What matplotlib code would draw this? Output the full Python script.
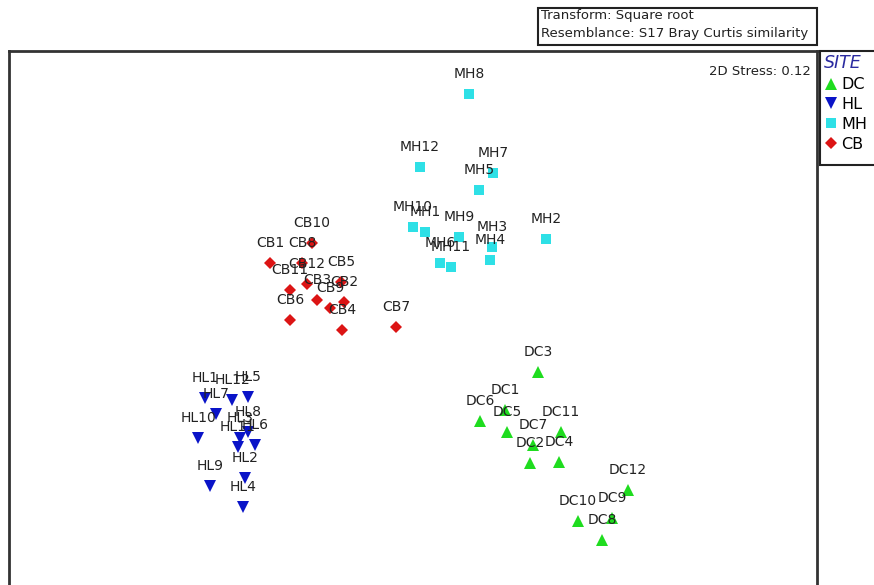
import matplotlib.pyplot as plt
from matplotlib.lines import Line2D
from matplotlib.patches import Rectangle

plt.rcParams['font.family'] = ['DejaVu Sans']

# nMDS ordination scores per site group
dc_names = ['DC1', 'DC2', 'DC3', 'DC4', 'DC5', 'DC6', 'DC7', 'DC8', 'DC9', 'DC10', 'DC11', 'DC12']
dc_x = [0.46, 0.585, 0.625, 0.73, 0.47, 0.335, 0.60, 0.945, 0.995, 0.825, 0.74, 1.075]
dc_y = [-0.55, -0.815, -0.36, -0.81, -0.66, -0.605, -0.725, -1.20, -1.09, -1.105, -0.66, -0.95]

hl_names = ['HL1', 'HL2', 'HL3', 'HL4', 'HL5', 'HL6', 'HL7', 'HL8', 'HL9', 'HL10', 'HL11', 'HL12']
hl_x = [-1.04, -0.84, -0.865, -0.85, -0.825, -0.79, -0.985, -0.825, -1.015, -1.075, -0.875, -0.905]
hl_y = [-0.49, -0.89, -0.69, -1.035, -0.485, -0.725, -0.57, -0.66, -0.93, -0.69, -0.735, -0.50]

mh_names = ['MH1', 'MH2', 'MH3', 'MH4', 'MH5', 'MH6', 'MH7', 'MH8', 'MH9', 'MH10', 'MH11', 'MH12']
mh_x = [0.06, 0.665, 0.395, 0.385, 0.33, 0.135, 0.40, 0.28, 0.23, 0.0, 0.19, 0.035]
mh_y = [0.34, 0.305, 0.265, 0.20, 0.55, 0.185, 0.635, 1.03, 0.315, 0.365, 0.165, 0.665]

cb_names = ['CB1', 'CB2', 'CB3', 'CB4', 'CB5', 'CB6', 'CB7', 'CB8', 'CB9', 'CB10', 'CB11', 'CB12']
cb_x = [-0.715, -0.345, -0.48, -0.355, -0.36, -0.615, -0.085, -0.555, -0.415, -0.505, -0.615, -0.53]
cb_y = [0.185, -0.01, 0.0, -0.15, 0.09, -0.10, -0.135, 0.185, -0.04, 0.285, 0.05, 0.08]

groups = [
    ('DC', dc_names, dc_x, dc_y, '^', '#1fdc1f', 8.5),
    ('HL', hl_names, hl_x, hl_y, 'v', '#0a14c8', 8.5),
    ('MH', mh_names, mh_x, mh_y, 's', '#2ee0e6', 7),
    ('CB', cb_names, cb_x, cb_y, 'D', '#dc1414', 6.5),
]

fig = plt.figure(figsize=(8.74, 5.85), dpi=100)
# axes box runs past the bottom of the figure
ax = fig.add_axes([9 / 874, -15 / 585, 808 / 874, 549 / 585])
ax.set_xlim(-2.02, 2.02)
ax.set_ylim(-1.5, 1.245)
ax.set_xticks([])
ax.set_yticks([])
for sp in ax.spines.values():
    sp.set_linewidth(2)
    sp.set_color('#333333')

handles = []
for name, labels, xs, ys, mk, col, ms in groups:
    ax.plot(xs, ys, linestyle='none', marker=mk, color=col, markersize=ms,
            markeredgewidth=0, zorder=3)
    for lab, x, y in zip(labels, xs, ys):
        ax.annotate(lab, (x, y), xytext=(0, 14.5), textcoords='offset points',
                    ha='center', va='center', fontsize=10, color='#222222', zorder=4)
    handles.append(Line2D([], [], linestyle='none', marker=mk, color=col,
                          markersize=ms, markeredgewidth=0, label=name))

ax.text(0.993, 0.975, '2D Stress: 0.12', transform=ax.transAxes,
        ha='right', va='top', fontsize=9.5, color='#222222')

# resemblance info box above the plot
fig.patches.append(Rectangle((538 / 874, 1 - 45 / 585), 279 / 874, 37 / 585,
                             transform=fig.transFigure, facecolor='white',
                             edgecolor='#222222', linewidth=1.5))
fig.text(541 / 874, 1 - 16 / 585, 'Transform: Square root',
         ha='left', va='center', fontsize=9.5, color='#222222')
fig.text(541 / 874, 1 - 34 / 585, 'Resemblance: S17 Bray Curtis similarity',
         ha='left', va='center', fontsize=9.5, color='#222222')

# legend frame continues past the right edge of the figure
fig.patches.append(Rectangle((820 / 874, 1 - 165 / 585), 70 / 874, 114 / 585,
                             transform=fig.transFigure, facecolor='white',
                             edgecolor='#222222', linewidth=1.5))
leg = fig.legend(handles=handles, title='SITE', loc='upper left',
                 bbox_to_anchor=(821 / 874, 1 - 52 / 585), fontsize=11.5,
                 title_fontsize=12.5, frameon=False,
                 borderpad=0.15, handletextpad=0.2, handlelength=0.9,
                 labelspacing=0.3, borderaxespad=0, alignment='left')
leg.get_title().set_style('italic')
leg.get_title().set_color('#2a2aa0')

fig.savefig('out.png', dpi=100)
